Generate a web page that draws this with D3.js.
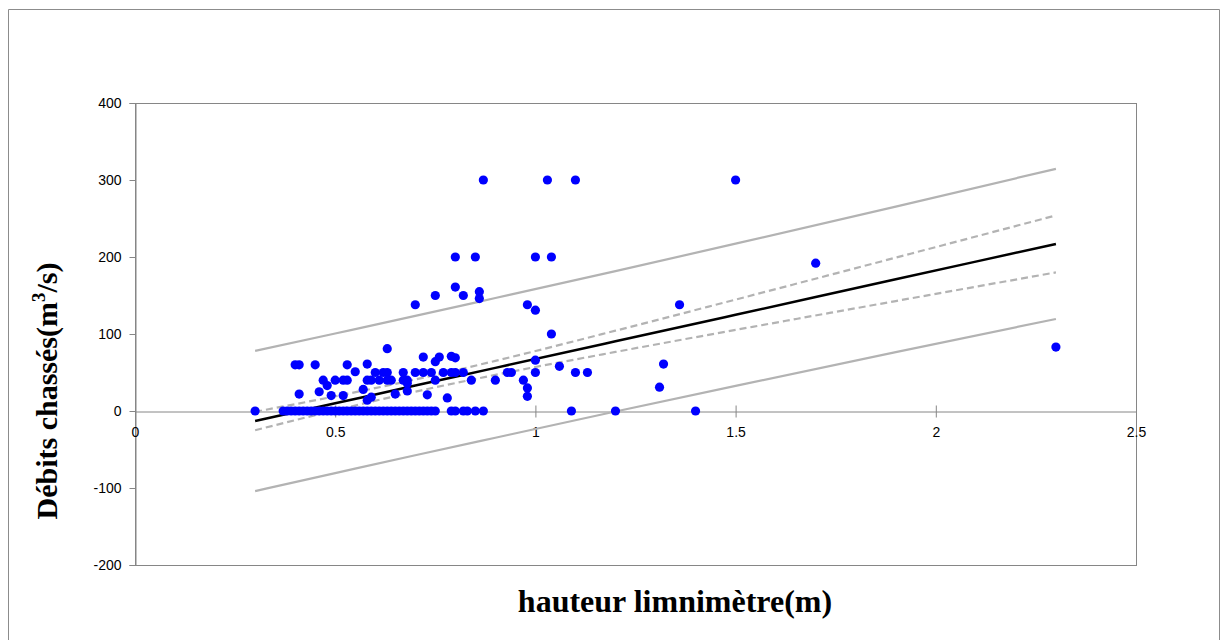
<!DOCTYPE html>
<html>
<head>
<meta charset="utf-8">
<script src="https://cdn.jsdelivr.net/npm/d3@7"></script>
<style>
  html, body { margin: 0; padding: 0; background: #fff; }
  svg { display: block; }
</style>
</head>
<body>
<svg id="chart" width="1227" height="640"></svg>
<script>
// Observed points: water height (m) and flushed discharge (m3/s)
const hauteur = [
  0.30, 0.37, 0.38, 0.39, 0.40, 0.41, 0.42, 0.43, 0.44, 0.45, 0.46, 0.47, 0.48, 0.49,
  0.50, 0.51, 0.52, 0.53, 0.54, 0.55, 0.56, 0.57, 0.58, 0.59, 0.60, 0.61, 0.62, 0.63,
  0.64, 0.65, 0.66, 0.67, 0.68, 0.69, 0.70, 0.71, 0.72, 0.73, 0.74, 0.75, 0.79, 0.80,
  0.82, 0.83, 0.85, 0.87, 1.09, 1.20, 1.40,
  0.40, 0.41, 0.45, 0.53, 0.58,
  0.41, 0.46, 0.49, 0.52,
  0.47, 0.48, 0.50, 0.52, 0.53,
  0.55, 0.57, 0.58, 0.59,
  0.58, 0.59, 0.61, 0.63, 0.64,
  0.60, 0.62, 0.63, 0.63,
  0.65, 0.67, 0.68, 0.67, 0.68, 0.68,
  0.70, 0.72, 0.74, 0.72, 0.73,
  0.75, 0.76, 0.75, 0.77, 0.78, 0.79, 0.79, 0.80, 0.80, 0.82,
  0.84, 0.90, 0.93, 0.94, 0.97, 0.98, 0.98, 1.00, 1.00, 1.06, 1.10, 1.13, 1.31, 1.32,
  0.70, 0.75, 0.80, 0.82, 0.86, 0.86, 0.98, 1.00, 1.04, 1.36, 1.70, 2.30,
  0.80, 0.85, 1.00, 1.04,
  0.87, 1.03, 1.10, 1.50
];
const debit = [
  0, 0, 0, 0, 0, 0, 0, 0, 0, 0, 0, 0, 0, 0,
  0, 0, 0, 0, 0, 0, 0, 0, 0, 0, 0, 0, 0, 0,
  0, 0, 0, 0, 0, 0, 0, 0, 0, 0, 0, 0, 0, 0,
  0, 0, 0, 0, 0, 0, 0,
  60, 60, 60, 60, 61,
  22, 25, 20, 20,
  40, 33, 40, 40, 40,
  51, 28, 14, 18,
  40, 40, 40, 40, 40,
  50, 50, 50, 81,
  22, 40, 40, 50, 36, 26,
  50, 50, 50, 70, 21,
  64, 70, 40, 50, 17, 50, 71, 69, 50, 50,
  40, 40, 50, 50, 40, 30, 19, 66, 50, 58, 50, 50, 31, 61,
  138, 150, 161, 150, 155, 146, 138, 131, 100, 138, 192, 83,
  200, 200, 200, 200,
  300, 300, 300, 300
];

// Regression line with confidence and prediction bands
const bandX     = [0.3, 0.5, 0.7, 0.9, 1.2, 1.5, 1.9, 2.3];
const ajuste    = [-13, 10, 33, 56, 90.5, 125, 171, 217];
const confHaut  = [-1, 19.1, 40.9, 65.1, 104.3, 144.7, 199.2, 254];
const confBas   = [-25, 0.9, 25.1, 46.9, 76.7, 105.3, 142.8, 180];
const predHaut  = [78, 100.7, 123.5, 146.7, 181.7, 217.3, 265.5, 314.5];
const predBas   = [-104, -80.7, -57.5, -34.7, -0.7, 32.7, 76.5, 119.5];

const xTicks = [0, 0.5, 1, 1.5, 2, 2.5];
const xTickLabels = ["0", "0.5", "1", "1.5", "2", "2.5"];
const yTicks = [-200, -100, 0, 100, 200, 300, 400];
const yTickLabels = ["-200", "-100", "0", "100", "200", "300", "400"];

const svg = d3.select("#chart");
const W = 1227, H = 640;
const plot = { left: 135, right: 1136, top: 103, bottom: 565 };

const x = d3.scaleLinear().domain([0, 2.5]).range([plot.left, plot.right]);
const y = d3.scaleLinear().domain([-200, 400]).range([plot.bottom, plot.top]);

const axisGrey = "#868686";
const tickFont = "'Liberation Sans', Arial, sans-serif";
const tickSize = 14;

// Chart frame
svg.append("rect").attr("x", 0).attr("y", 0).attr("width", W).attr("height", H).attr("fill", "#fff");
svg.append("path")
  .attr("d", `M8.5,${H + 5} L8.5,9.5 L1219.5,9.5 L1219.5,${H + 5}`)
  .attr("fill", "none").attr("stroke", "#8c8c8c").attr("stroke-width", 1);

// Plot area border
svg.append("rect")
  .attr("x", plot.left + 0.5).attr("y", plot.top + 0.5)
  .attr("width", plot.right - plot.left).attr("height", plot.bottom - plot.top)
  .attr("fill", "none").attr("stroke", axisGrey).attr("stroke-width", 1);

// Y axis: outward ticks on the left edge
const yAxis = d3.axisLeft(y).tickValues(yTicks).tickSize(6).tickPadding(8)
  .tickFormat((d, i) => yTickLabels[i]);
const gy = svg.append("g").attr("transform", `translate(${plot.left + 0.5},0)`).call(yAxis);
gy.select(".domain").attr("stroke", axisGrey);
gy.selectAll(".tick line").attr("stroke", axisGrey);
gy.selectAll(".tick text").attr("font-family", tickFont).attr("font-size", tickSize).attr("fill", "#000");

// X axis drawn through y = 0 with crossing ticks
const xAxis = d3.axisBottom(x).tickValues(xTicks).tickSize(0).tickPadding(16)
  .tickFormat((d, i) => xTickLabels[i]);
const gx = svg.append("g").attr("transform", `translate(0,${Math.round(y(0)) + 0.5})`).call(xAxis);
gx.select(".domain").attr("stroke", axisGrey);
gx.selectAll(".tick").append("line").attr("y1", -6).attr("y2", 6).attr("stroke", axisGrey);
gx.selectAll(".tick text").attr("font-family", tickFont).attr("font-size", tickSize).attr("fill", "#000");

// Bands and fitted line
const lineOf = vals => d3.line().x((d, i) => x(bandX[i])).y(d => y(d)).curve(d3.curveMonotoneX)(vals);
const bandGrey = "#b3b3b3";
[predHaut, predBas].forEach(v => svg.append("path").attr("d", lineOf(v))
  .attr("fill", "none").attr("stroke", bandGrey).attr("stroke-width", 2.2));
[confHaut, confBas].forEach(v => svg.append("path").attr("d", lineOf(v))
  .attr("fill", "none").attr("stroke", bandGrey).attr("stroke-width", 2.2).attr("stroke-dasharray", "7,4"));
svg.append("path").attr("d", lineOf(ajuste))
  .attr("fill", "none").attr("stroke", "#000").attr("stroke-width", 2.5);

// Scatter points
svg.append("g").selectAll("circle").data(hauteur).join("circle")
  .attr("cx", d => x(d)).attr("cy", (d, i) => y(debit[i])).attr("r", 4.6)
  .attr("fill", "#0000ff");

// Axis titles
const titleFont = "'Liberation Serif', 'Times New Roman', serif";
const yt = svg.append("text")
  .attr("transform", `translate(57,391) rotate(-90)`)
  .attr("text-anchor", "middle")
  .attr("font-family", titleFont).attr("font-weight", "bold").attr("font-size", 30).attr("fill", "#000");
yt.append("tspan").text("Débits chassés(m");
yt.append("tspan").attr("font-size", 19).attr("dy", -12).text("3");
yt.append("tspan").attr("dy", 12).text("/s)");

svg.append("text")
  .attr("x", 675).attr("y", 612)
  .attr("text-anchor", "middle")
  .attr("font-family", titleFont).attr("font-weight", "bold").attr("font-size", 32).attr("fill", "#000")
  .text("hauteur limnimètre(m)");
</script>
</body>
</html>
